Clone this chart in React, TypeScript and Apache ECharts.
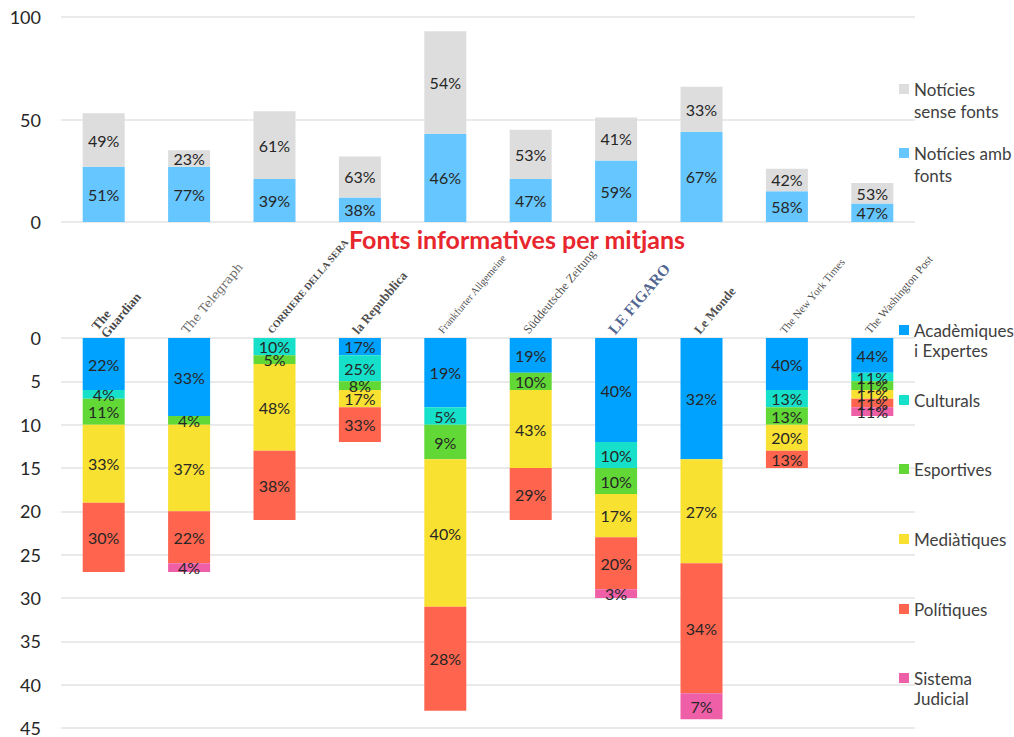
import React, { useEffect, useRef } from 'react';
import * as echarts from 'echarts';

const papers = ['The Guardian', 'The Telegraph', 'Corriere della Sera', 'la Repubblica', 'Frankfurter Allgemeine', 'Süddeutsche Zeitung', 'Le Figaro', 'Le Monde', 'The New York Times', 'The Washington Post'];
const paperLabels = ['The\nGuardian', 'The Telegraph', 'CORRIERE DELLA SERA', 'la Repubblica', 'Frankfurter Allgemeine', 'Süddeutsche Zeitung', 'LE FIGARO', 'Le Monde', 'The New York Times', 'The Washington Post'];

// Top chart: news with / without sources
const ambFonts = [27, 27, 21, 12, 43, 21, 30, 44, 15, 9];
const senseFonts = [26, 8, 33, 20, 50, 24, 21, 22, 11, 10];

// Bottom chart: type of source
const academiques = [6, 9, 0, 2, 8, 4, 12, 14, 6, 4];
const culturals = [1, 0, 2, 3, 2, 0, 3, 0, 2, 1];
const esportives = [3, 1, 1, 1, 4, 2, 3, 0, 2, 1];
const mediatiques = [9, 10, 10, 2, 17, 9, 5, 12, 3, 1];
const politiques = [8, 6, 8, 4, 12, 6, 6, 15, 2, 1];
const judicial = [0, 1, 0, 0, 0, 0, 1, 3, 0, 1];

const topTicks = [0, 50, 100];
const bottomTicks = [0, 5, 10, 15, 20, 25, 30, 35, 40, 45];

const title = 'Fonts informatives per mitjans';

const FONT = 'Lato, "Open Sans", sans-serif';

const paperStyles: any[] = [
  { fontFamily: '"Liberation Serif", serif', fontWeight: 'bold', fontSize: 13, lineHeight: 12, color: '#111' },
  { fontFamily: '"DejaVu Serif", serif', fontSize: 12, color: '#444' },
  { fontFamily: '"Liberation Serif", serif', fontWeight: 'bold', fontSize: 10, color: '#111' },
  { fontFamily: '"Liberation Serif", serif', fontWeight: 'bold', fontSize: 13, color: '#222' },
  { fontFamily: '"Liberation Serif", serif', fontSize: 10.5, color: '#222' },
  { fontFamily: '"Liberation Serif", serif', fontSize: 12.5, color: '#222' },
  { fontFamily: '"Liberation Serif", serif', fontWeight: 'bold', fontSize: 15.5, color: '#1F3C73' },
  { fontFamily: '"Liberation Serif", serif', fontWeight: 'bold', fontSize: 13, color: '#222' },
  { fontFamily: '"Liberation Serif", serif', fontSize: 11, color: '#222' },
  { fontFamily: '"Liberation Serif", serif', fontSize: 11.5, color: '#222' },
];

const legendText: Record<string, string> = {
  'Notícies sense fonts': 'Notícies\nsense fonts',
  'Notícies amb fonts': 'Notícies amb\nfonts',
  'Acadèmiques i Expertes': 'Acadèmiques\ni Expertes',
  'Culturals': 'Culturals',
  'Esportives': 'Esportives',
  'Mediàtiques': 'Mediàtiques',
  'Polítiques': 'Polítiques',
  'Sistema Judicial': 'Sistema\nJudicial',
};

const sum = (arrs: number[][]) => arrs[0].map((_, i) => arrs.reduce((s, a) => s + a[i], 0));

export default function App() {
  const ref = useRef<HTMLDivElement>(null);
  useEffect(() => {
    document.body.style.margin = '0';
    const chart = echarts.init(ref.current!, undefined, { renderer: 'svg' });
    const topTotals = sum([ambFonts, senseFonts]);
    const bottomSeriesData = [
      { name: 'Acadèmiques i Expertes', data: academiques, color: '#00A2FF' },
      { name: 'Culturals', data: culturals, color: '#16E0C9' },
      { name: 'Esportives', data: esportives, color: '#61D836' },
      { name: 'Mediàtiques', data: mediatiques, color: '#F9E132' },
      { name: 'Polítiques', data: politiques, color: '#FF644E' },
      { name: 'Sistema Judicial', data: judicial, color: '#EF5FA7' },
    ];
    const bottomTotals = sum(bottomSeriesData.map((s) => s.data));
    const label = (totals: number[]) => ({
      show: true,
      position: 'inside',
      fontFamily: FONT,
      fontSize: 16,
      color: '#262626',
      formatter: (p: any) => (p.value ? Math.round((p.value / totals[p.dataIndex]) * 100) + '%' : ''),
    });

    const legendItems = [
      { name: 'Notícies sense fonts', c: 89, lh: 22 },
      { name: 'Notícies amb fonts', c: 153, lh: 22 },
      { name: 'Acadèmiques i Expertes', c: 330, lh: 20 },
      { name: 'Culturals', c: 400, lh: 0 },
      { name: 'Esportives', c: 469, lh: 0 },
      { name: 'Mediàtiques', c: 539, lh: 0 },
      { name: 'Polítiques', c: 609, lh: 0 },
      { name: 'Sistema Judicial', c: 678, lh: 20 },
    ];

    chart.setOption({
      animation: false,
      title: {
        text: title,
        left: 344,
        top: 221,
        textStyle: { fontFamily: FONT, fontSize: 25, fontWeight: 'bold', color: '#E8262D' },
      },
      legend: legendItems.map((l) => {
        const multi = l.lh > 0;
        const h = multi ? 2 * l.lh : 10;
        const a = l.lh / 2 - 5;
        const b = a + 10;
        return {
          data: [l.name],
          left: 899,
          top: multi ? l.c - l.lh / 2 : l.c - 10,
          padding: 0,
          itemWidth: 10,
          itemHeight: h,
          icon: multi
            ? `path://M0,0L0.01,0ZM0,${a}L10,${a}L10,${b}L0,${b}ZM0,${h}L0.01,${h}Z`
            : 'rect',
          formatter: (n: string) => legendText[n],
          textStyle: {
            fontFamily: FONT,
            fontSize: 17,
            color: '#404040',
            lineHeight: multi ? l.lh : 20,
          },
        };
      }),
      grid: [
        { left: 61, width: 854, top: 17, height: 205 },
        { left: 61, width: 854, top: 338, height: 390 },
      ],
      xAxis: [
        {
          type: 'category',
          gridIndex: 0,
          data: papers,
          axisLine: { show: false },
          axisTick: { show: false },
          axisLabel: { show: false },
        },
        {
          type: 'category',
          gridIndex: 1,
          position: 'top',
          data: papers,
          axisLine: { show: false },
          axisTick: { show: false },
          axisLabel: { show: false },
        },
      ],
      yAxis: [
        {
          type: 'value',
          gridIndex: 0,
          min: topTicks[0],
          max: topTicks[topTicks.length - 1],
          interval: topTicks[1] - topTicks[0],
          axisLabel: { fontFamily: FONT, fontSize: 18, color: '#262626', margin: 20 },
          splitLine: { lineStyle: { color: '#E3E3E3', width: 1.5 } },
        },
        {
          type: 'value',
          gridIndex: 1,
          inverse: true,
          min: bottomTicks[0],
          max: bottomTicks[bottomTicks.length - 1],
          interval: bottomTicks[1] - bottomTicks[0],
          axisLabel: { fontFamily: FONT, fontSize: 18, color: '#262626', margin: 20 },
          splitLine: { lineStyle: { color: '#E3E3E3', width: 1.5 } },
        },
      ],
      series: [
        {
          name: 'Notícies amb fonts',
          type: 'bar',
          stack: 'top',
          xAxisIndex: 0,
          yAxisIndex: 0,
          barWidth: 42,
          data: ambFonts,
          itemStyle: { color: '#66C6FF' },
          label: label(topTotals),
        },
        {
          name: 'Notícies sense fonts',
          type: 'bar',
          stack: 'top',
          xAxisIndex: 0,
          yAxisIndex: 0,
          barWidth: 42,
          data: senseFonts,
          itemStyle: { color: '#DDDDDD' },
          label: label(topTotals),
        },
        ...bottomSeriesData.map((s) => ({
          name: s.name,
          type: 'bar',
          stack: 'bottom',
          xAxisIndex: 1,
          yAxisIndex: 1,
          barWidth: 42,
          data: s.data,
          itemStyle: { color: s.color },
          label: label(bottomTotals),
        })),
        {
          name: 'mitjans',
          type: 'scatter',
          xAxisIndex: 1,
          yAxisIndex: 1,
          symbol: 'circle',
          symbolSize: 2,
          itemStyle: { color: 'rgba(0,0,0,0)' },
          silent: true,
          z: 10,
          data: papers.map((p, i) => ({
            value: [i, 0],
            label: {
              show: true,
              position: [-4, -5],
              align: 'left',
              verticalAlign: 'middle',
              rotate: 50,
              formatter: paperLabels[i],
              ...paperStyles[i],
            },
          })),
        },
      ],
    });
    return () => chart.dispose();
  }, []);
  return <div ref={ref} style={{ width: 1014, height: 737 }} />;
}
